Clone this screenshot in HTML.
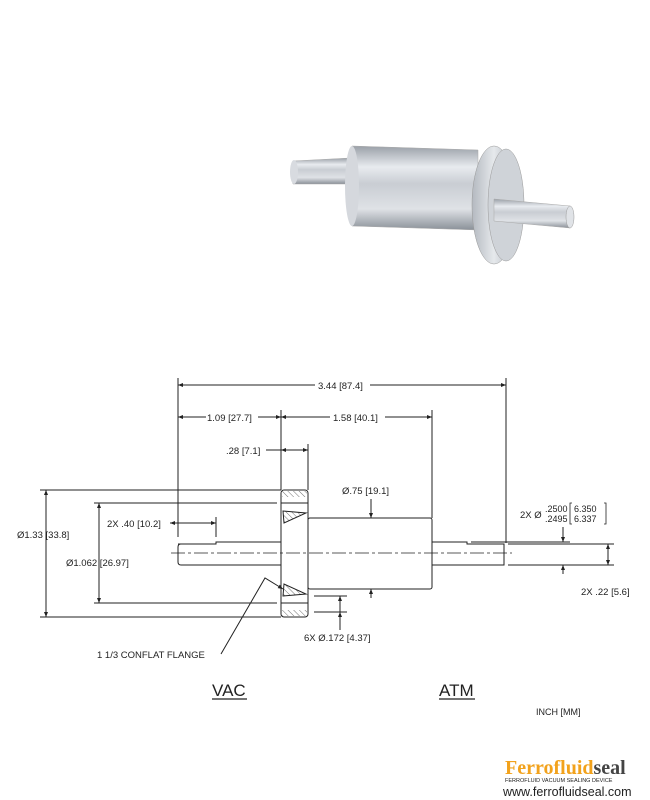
<!DOCTYPE html>
<html><head><meta charset="utf-8"><style>
html,body{margin:0;padding:0;background:#fff;width:650px;height:800px;overflow:hidden}
svg{display:block}
text{font-family:"Liberation Sans",Arial,sans-serif;fill:#222}
</style></head><body>
<svg width="650" height="800" viewBox="0 0 650 800" xmlns="http://www.w3.org/2000/svg">
<defs>
<linearGradient id="cyl" x1="0" y1="0" x2="0" y2="1">
<stop offset="0" stop-color="#9aa0a8"/><stop offset="0.25" stop-color="#e8ebef"/><stop offset="0.45" stop-color="#c9cdd3"/><stop offset="0.75" stop-color="#dfe2e6"/><stop offset="1" stop-color="#8a9098"/></linearGradient>
<linearGradient id="fl" x1="0" y1="0" x2="1" y2="0">
<stop offset="0" stop-color="#b4b9c0"/><stop offset="0.5" stop-color="#e6e9ec"/><stop offset="1" stop-color="#aab0b8"/></linearGradient>
<marker id="a" viewBox="0 0 10 10" refX="10" refY="5" markerWidth="7" markerHeight="5" orient="auto-start-reverse"><path d="M0,1 L10,5 L0,9 z" fill="#222"/></marker>
<pattern id="h" width="4" height="4" patternUnits="userSpaceOnUse" patternTransform="rotate(-45)"><line x1="0" y1="0" x2="0" y2="4" stroke="#333" stroke-width="0.7"/></pattern>
</defs>

<g>
<path d="M293,161 L350,158 L350,184 L293,184 Q289,172 293,161z" fill="url(#cyl)" stroke="#aaa" stroke-width="0.5"/>
<ellipse cx="294" cy="172" rx="4" ry="12" fill="#d8dbe0"/>
<path d="M352,146 L478,150 L478,230 L352,226 Q344,186 352,146z" fill="url(#cyl)" stroke="#aaa" stroke-width="0.5"/>
<ellipse cx="352" cy="186" rx="7" ry="40" fill="#d5d8dd"/>
<ellipse cx="494" cy="205" rx="22" ry="59" fill="url(#fl)" stroke="#999" stroke-width="0.5"/>
<ellipse cx="506" cy="205" rx="18" ry="56" fill="#cfd3d8" stroke="#999" stroke-width="0.5"/>
<path d="M494,199 L570,206 Q575,217 570,228 L494,221z" fill="url(#cyl)" stroke="#aaa" stroke-width="0.5"/>
<ellipse cx="570" cy="217" rx="4" ry="11" fill="#e0e3e7" stroke="#999" stroke-width="0.5"/>
</g>

<g stroke="#222" stroke-width="1" fill="none">
<line x1="178" y1="378" x2="178" y2="537"/>
<line x1="506" y1="378" x2="506" y2="543"/>
<line x1="281" y1="410" x2="281" y2="490"/>
<line x1="432" y1="410" x2="432" y2="518"/>
<line x1="308" y1="444" x2="308" y2="490"/>
<line x1="216" y1="517" x2="216" y2="537"/>
<line x1="40" y1="490" x2="281" y2="490"/>
<line x1="40" y1="617" x2="281" y2="617"/>
<line x1="94" y1="503" x2="277" y2="503"/>
<line x1="94" y1="603" x2="277" y2="603"/>
<line x1="314" y1="596" x2="347" y2="596"/>
<line x1="314" y1="612" x2="347" y2="612"/>
<line x1="471" y1="542" x2="570" y2="542"/>
<line x1="508" y1="544" x2="614" y2="544"/>
<line x1="508" y1="565" x2="614" y2="565"/>
<line x1="178" y1="385" x2="315" y2="385" marker-start="url(#a)"/>
<line x1="370" y1="385" x2="506" y2="385" marker-end="url(#a)"/>
<line x1="178" y1="417" x2="206" y2="417" marker-start="url(#a)"/>
<line x1="258" y1="417" x2="281" y2="417" marker-end="url(#a)"/>
<line x1="281" y1="417" x2="330" y2="417" marker-start="url(#a)"/>
<line x1="385" y1="417" x2="432" y2="417" marker-end="url(#a)"/>
<line x1="266" y1="450" x2="281" y2="450"/>
<line x1="281" y1="450" x2="308" y2="450" marker-start="url(#a)" marker-end="url(#a)"/>
<line x1="170" y1="523" x2="216" y2="523" marker-start="url(#a)" marker-end="url(#a)"/>
<line x1="46" y1="490" x2="46" y2="617" marker-start="url(#a)" marker-end="url(#a)"/>
<line x1="99" y1="503" x2="99" y2="603" marker-start="url(#a)" marker-end="url(#a)"/>
<line x1="371" y1="499" x2="371" y2="518" marker-end="url(#a)"/>
<line x1="371" y1="598" x2="371" y2="589" marker-end="url(#a)"/>
<line x1="563" y1="527" x2="563" y2="542" marker-end="url(#a)"/>
<line x1="563" y1="574" x2="563" y2="565" marker-end="url(#a)"/>
<line x1="608" y1="544" x2="608" y2="565" marker-start="url(#a)" marker-end="url(#a)"/>
<line x1="340" y1="612" x2="340" y2="596" marker-end="url(#a)"/>
<line x1="340" y1="630" x2="340" y2="612" marker-end="url(#a)"/>
<path d="M178,544 L216,544 L216,542 L281,542 M281,565 L181,565 Q178,565 178,562 L178,547 Q178,544 181,544"/>
<path d="M432,542 L467,542 L467,544 L504,544 L504,565 L432,565"/>
<rect x="308" y="518" width="124" height="71" rx="2"/>
<rect x="281" y="490" width="27" height="127" rx="3"/>
<rect x="282" y="491" width="25" height="6" fill="url(#h)" stroke="none"/>
<rect x="282" y="610" width="25" height="6" fill="url(#h)" stroke="none"/>
<path d="M283,511 L306,513 L284,523z" fill="url(#h)"/>
<path d="M283,596 L306,594 L284,584z" fill="url(#h)"/>
<line x1="281" y1="503" x2="308" y2="503"/>
<line x1="281" y1="603" x2="308" y2="603"/>
<polyline points="221,654 265,578 283,589" marker-end="url(#a)"/>
</g>
<line x1="171" y1="553" x2="512" y2="553" stroke="#222" stroke-width="0.7" stroke-dasharray="14,3,3,3"/>

<g font-size="9.5">
<text x="318" y="389">3.44 [87.4]</text>
<text x="207" y="421">1.09 [27.7]</text>
<text x="333" y="421">1.58 [40.1]</text>
<text x="226" y="454">.28 [7.1]</text>
<text x="342" y="494">Ø.75 [19.1]</text>
<text x="107" y="527">2X .40 [10.2]</text>
<text x="17" y="538">Ø1.33 [33.8]</text>
<text x="66" y="566">Ø1.062 [26.97]</text>
<text x="304" y="641">6X Ø.172 [4.37]</text>
<text x="97" y="658">1 1/3 CONFLAT FLANGE</text>
<text x="520" y="518">2X Ø</text>
<text x="581" y="595">2X .22 [5.6]</text>
</g>
<g font-size="9">
<text x="545" y="512">.2500</text><text x="545" y="522">.2495</text>
<text x="574" y="512">6.350</text><text x="574" y="522">6.337</text>
</g>
<path d="M572,503 L570,503 L570,524 L572,524 M604,503 L606,503 L606,524 L604,524" stroke="#222" fill="none" stroke-width="0.8"/>

<text x="212" y="696" font-size="17">VAC</text>
<line x1="212" y1="699" x2="247" y2="699" stroke="#222" stroke-width="1.2"/>
<text x="439" y="696" font-size="17">ATM</text>
<line x1="439" y1="699" x2="475" y2="699" stroke="#222" stroke-width="1.2"/>
<text x="536" y="715" font-size="9">INCH [MM]</text>

<text x="505" y="774" font-size="20" font-weight="bold" style="font-family:'Liberation Serif',serif"><tspan fill="#f2a21c">Ferrofluid</tspan><tspan fill="#444">seal</tspan></text>
<text x="505" y="782" font-size="5.5" fill="#555">FERROFLUID VACUUM SEALING DEVICE</text>
<text x="503" y="796" font-size="12.5" fill="#222">www.ferrofluidseal.com</text>
</svg>
</body></html>
